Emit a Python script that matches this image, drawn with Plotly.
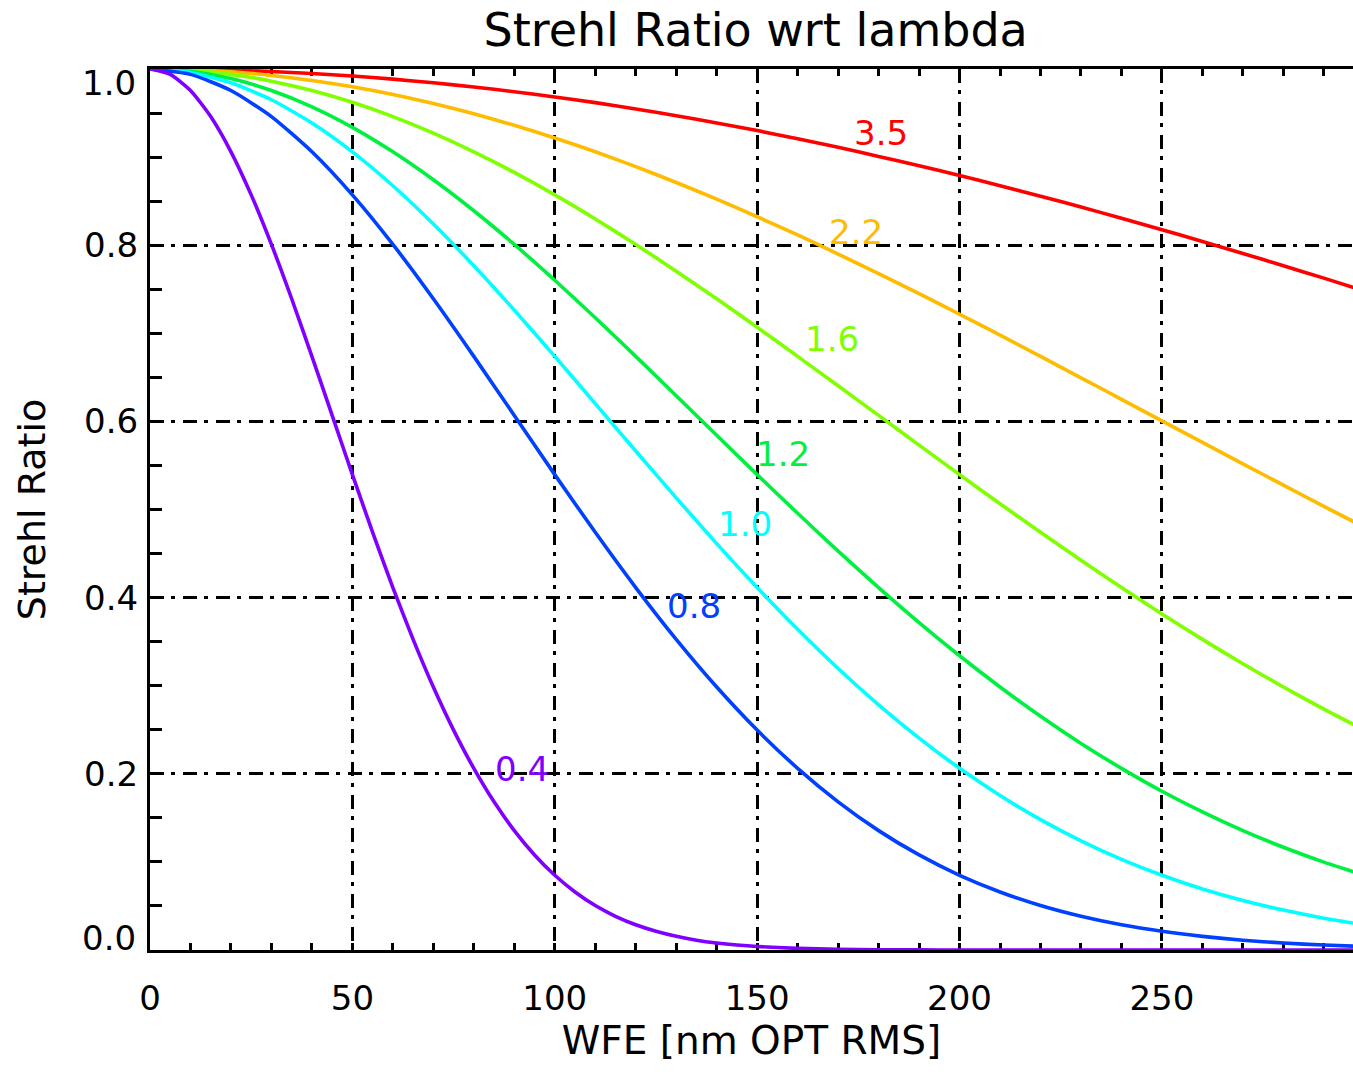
import plotly.graph_objects as go

# Wavefront error, nm OPT RMS
wfe = [0, 10, 20, 30, 40, 50, 60, 70, 80, 90, 100, 110, 120, 130, 140, 150,
       160, 170, 180, 190, 200, 210, 220, 230, 240, 250, 260, 270, 280, 290, 300]
# denser sampling for the steep short-wavelength curve
wfe_fine = [0, 5, 10, 15, 20, 25, 30, 35, 40, 45, 50, 55, 60, 65, 70, 75, 80, 85,
            90, 95, 100, 105, 110, 115, 120, 125, 130, 135, 140, 145, 150,
            160, 170, 180, 190, 200, 220, 240, 260, 280, 300]

# Strehl ratio for each wavelength (microns)
strehl_0_4 = [1.000, 0.9939, 0.9756, 0.9460, 0.9060, 0.8571, 0.8009, 0.7392, 0.6738,
              0.6068, 0.5396, 0.4741, 0.4114, 0.3526, 0.2985, 0.2496, 0.2062, 0.1682,
              0.1355, 0.1079, 0.0848, 0.0659, 0.0505, 0.0383, 0.0286, 0.0212, 0.0155,
              0.0111, 0.0079, 0.0056, 0.0039, 0.0018, 0.0008, 0.0003, 0.0001, 0.0000,
              0.0000, 0.0000, 0.0000, 0.0000, 0.0000]
strehl_0_8 = [1.000, 0.9939, 0.9756, 0.9460, 0.9060, 0.8571, 0.8009, 0.7392, 0.6738,
              0.6068, 0.5396, 0.4741, 0.4114, 0.3526, 0.2985, 0.2496, 0.2062, 0.1682,
              0.1355, 0.1079, 0.0848, 0.0659, 0.0505, 0.0383, 0.0286, 0.0212, 0.0155,
              0.0111, 0.0079, 0.0056, 0.0039]
strehl_1_0 = [1.000, 0.9961, 0.9843, 0.9651, 0.9388, 0.9060, 0.8675, 0.8241, 0.7767,
              0.7263, 0.6738, 0.6202, 0.5664, 0.5132, 0.4613, 0.4114, 0.3640, 0.3195,
              0.2783, 0.2405, 0.2062, 0.1754, 0.1480, 0.1239, 0.1029, 0.0848, 0.0693,
              0.0562, 0.0453, 0.0361, 0.0286]
strehl_1_2 = [1.000, 0.9973, 0.9891, 0.9756, 0.9571, 0.9338, 0.9060, 0.8743, 0.8391,
              0.8009, 0.7602, 0.7177, 0.6738, 0.6292, 0.5843, 0.5396, 0.4957, 0.4528,
              0.4114, 0.3717, 0.3340, 0.2985, 0.2653, 0.2345, 0.2062, 0.1802, 0.1567,
              0.1355, 0.1166, 0.0997, 0.0848]
strehl_1_6 = [1.000, 0.9985, 0.9939, 0.9862, 0.9756, 0.9622, 0.9460, 0.9272, 0.9060,
              0.8826, 0.8571, 0.8298, 0.8009, 0.7705, 0.7392, 0.7068, 0.6738, 0.6404,
              0.6068, 0.5731, 0.5396, 0.5066, 0.4741, 0.4423, 0.4114, 0.3814, 0.3526,
              0.3249, 0.2985, 0.2734, 0.2496]
strehl_2_2 = [1.000, 0.9992, 0.9967, 0.9927, 0.9870, 0.9798, 0.9711, 0.9608, 0.9491,
              0.9361, 0.9217, 0.9060, 0.8892, 0.8712, 0.8523, 0.8323, 0.8116, 0.7900,
              0.7678, 0.7450, 0.7216, 0.6979, 0.6738, 0.6495, 0.6251, 0.6006, 0.5762,
              0.5518, 0.5276, 0.5036, 0.4799]
strehl_3_5 = [1.000, 0.9997, 0.9987, 0.9971, 0.9949, 0.9920, 0.9885, 0.9843, 0.9796,
              0.9742, 0.9683, 0.9618, 0.9547, 0.9470, 0.9388, 0.9301, 0.9208, 0.9111,
              0.9008, 0.8902, 0.8791, 0.8675, 0.8556, 0.8433, 0.8306, 0.8176, 0.8043,
              0.7906, 0.7767, 0.7626, 0.7482]

series_names = ["3.5", "2.2", "1.6", "1.2", "1.0", "0.8", "0.4"]
series_x = [wfe, wfe, wfe, wfe, wfe, wfe, wfe_fine]
series_values = [strehl_3_5, strehl_2_2, strehl_1_6, strehl_1_2, strehl_1_0, strehl_0_8, strehl_0_4]
series_colors = ["#ff0000", "#ffbb00", "#80ff00", "#00f040", "#00ffff", "#0040ff", "#7f00ff"]

# In-plot wavelength labels (data coordinates)
label_x = [180.5, 174.5, 168.5, 156.5, 147.0, 134.5, 92.0]
label_y = [0.927, 0.815, 0.694, 0.563, 0.484, 0.391, 0.206]

x_ticks = [0, 50, 100, 150, 200, 250]
y_ticks = [0.0, 0.2, 0.4, 0.6, 0.8, 1.0]
y_tick_text = ["0.0", "0.2", "0.4", "0.6", "0.8", "1.0"]

FONT = "DejaVu Sans"
GRID_DASH = "14px,7px,4px,8px"
TICK_SIZE = 34

fig = go.Figure()
for xs, vals, name, col in zip(series_x, series_values, series_names, series_colors):
    fig.add_trace(go.Scatter(
        x=xs, y=vals, mode="lines", name=name,
        line=dict(color=col, width=3.6, shape="spline", smoothing=0.6),
        showlegend=False, hoverinfo="skip",
    ))

for name, col, lx, ly in zip(series_names, series_colors, label_x, label_y):
    fig.add_annotation(x=lx, y=ly, text=name, showarrow=False,
                       font=dict(family=FONT, size=34, color=col),
                       xanchor="center", yanchor="middle")

# End labels of the y axis sit just inside the frame
for val, txt, shift in [(0.0, y_tick_text[0], 12), (1.0, y_tick_text[-1], -14)]:
    fig.add_annotation(x=0, xref="paper", y=val, yref="y", text=txt,
                       showarrow=False, xanchor="right", yanchor="middle",
                       xshift=-12, yshift=shift,
                       font=dict(family=FONT, size=TICK_SIZE, color="black"))

fig.update_layout(
    width=1353, height=1072,
    margin=dict(l=150, r=0, t=69, b=122),
    paper_bgcolor="white", plot_bgcolor="white",
    title=dict(text="Strehl Ratio wrt lambda", x=0.5585, xanchor="center",
               y=0.972, yanchor="middle",
               font=dict(family=FONT, size=46, color="black")),
    font=dict(family=FONT, color="black"),
)

fig.update_xaxes(
    range=[0, 297.2], tickvals=x_ticks, ticktext=[str(v) for v in x_ticks],
    showline=True, linecolor="black", linewidth=3, mirror="ticks",
    ticks="inside", ticklen=7, tickwidth=3, tickcolor="black",
    tickfont=dict(family=FONT, size=TICK_SIZE, color="black"),
    ticklabelstandoff=16,
    showgrid=True, gridcolor="black", gridwidth=3.2, griddash=GRID_DASH,
    minor=dict(dtick=10, tick0=0, ticks="inside", ticklen=7, tickwidth=3,
               tickcolor="black", showgrid=False),
    zeroline=False, layer="below traces",
    title=dict(text="WFE [nm OPT RMS]", standoff=9,
               font=dict(family=FONT, size=39, color="black")),
)

fig.update_yaxes(
    range=[0, 1], tickvals=y_ticks,
    ticktext=[""] + y_tick_text[1:-1] + [""],
    showline=True, linecolor="black", linewidth=3, mirror=False,
    ticks="inside", ticklen=12, tickwidth=3, tickcolor="black",
    tickfont=dict(family=FONT, size=TICK_SIZE, color="black"),
    ticklabelstandoff=2,
    showgrid=True, gridcolor="black", gridwidth=3.2, griddash=GRID_DASH,
    minor=dict(dtick=0.05, tick0=0, ticks="inside", ticklen=12, tickwidth=3,
               tickcolor="black", showgrid=False),
    zeroline=False, layer="below traces",
    title=dict(text="Strehl Ratio", standoff=27,
               font=dict(family=FONT, size=38, color="black")),
)

fig.write_html("out.html")
